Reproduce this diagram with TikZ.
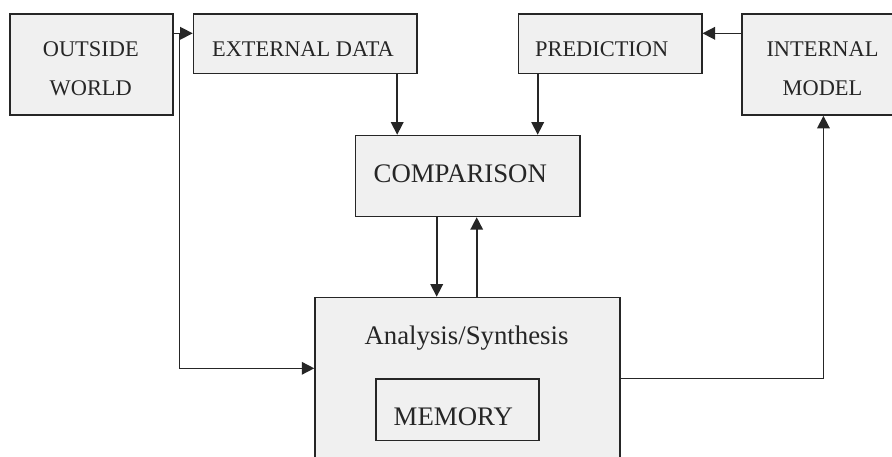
\documentclass[tikz,border=0pt]{standalone}
\usepackage{fontspec}
\setmainfont{Liberation Serif}
\usetikzlibrary{arrows.meta}

\definecolor{boxfill}{HTML}{F0F0F0}
\definecolor{ink}{HTML}{262626}

\tikzset{
  box/.style={draw=ink, fill=boxfill, line width=1.5pt, rectangle, inner sep=0pt,
              anchor=north west},
  smalltxt/.style={text=ink, inner sep=0pt, anchor=base, font=\fontsize{22.4}{26}\selectfont},
  bigtxt/.style={text=ink, inner sep=0pt, anchor=base, font=\fontsize{26.8}{31}\selectfont},
  conn/.style={draw=ink, line width=1.6pt},
  arr/.style={conn, -{Triangle[length=12.5pt,width=12.5pt]}},
}

\begin{document}
\begin{tikzpicture}[x=1pt,y=-1pt]
  \useasboundingbox (0,0) rectangle (892,456);
  \clip (0,0) rectangle (892,456);
  \fill[white] (0,0) rectangle (892,456);

  % boxes (corner at top left, size given in pt)
  \node[box, minimum width=163pt, minimum height=100.7pt] (outside) at (9.3,13.3) {};
  \node[box, minimum width=223.3pt, minimum height=59.4pt] (ext) at (192.7,13.3) {};
  \node[box, minimum width=183.3pt, minimum height=59.4pt] (pred) at (517.7,13.3) {};
  \node[box, minimum width=163.4pt, minimum height=101pt] (intm) at (741,13.3) {};
  \node[box, minimum width=224.3pt, minimum height=81pt] (comp) at (354.7,134.7) {};
  \node[box, minimum width=305pt, minimum height=190pt] (anal) at (314.3,296.7) {};
  \node[box, minimum width=163pt, minimum height=61.4pt] (mem) at (375.3,378.3) {};

  % labels
  \node[smalltxt] (t-out1) at (90.8,56.7) {OUTSIDE};
  \node[smalltxt] (t-out2) at (90.8,95.7) {WORLD};
  \node[smalltxt] (t-ext) at (303,56.7) {EXTERNAL DATA};
  \node[smalltxt] (t-pred) at (601.7,56.7) {PREDICTION};
  \node[smalltxt] (t-int1) at (822.5,56.7) {INTERNAL};
  \node[smalltxt] (t-int2) at (822.5,95.7) {MODEL};
  \node[bigtxt] (t-comp) at (460.3,182.3) {COMPARISON};
  \node[bigtxt] (t-anal) at (466.5,344.3) {Analysis/Synthesis};
  \node[bigtxt] (t-mem) at (453.3,425.7) {MEMORY};

  % outside world feeds the external data and the analysis stage
  \coordinate (split) at (179.3,33.3);
  \draw[arr] ([yshift=-20pt]outside.north east) -- ([yshift=-20pt]ext.north west);
  \draw[arr] (split) |- ([yshift=-71.6pt]anal.north west);

  % internal model produces the prediction
  \draw[arr] ([yshift=-20pt]intm.north west) -- ([yshift=-20pt]pred.north east);

  % data and prediction go into the comparison
  \draw[arr] ([xshift=-20.3pt]ext.south east) -- ([xshift=-20.3pt]ext.south east |- comp.north);
  \draw[arr] ([xshift=20pt]pred.south west) -- ([xshift=20pt]pred.south west |- comp.north);

  % comparison <-> analysis/synthesis
  \draw[arr] ([xshift=82pt]comp.south west) -- ([xshift=82pt]comp.south west |- anal.north);
  \draw[arr] ([xshift=122pt]comp.south west |- anal.north) -- ([xshift=122pt]comp.south west);

  % analysis/synthesis updates the internal model
  \draw[arr] ([yshift=-81.6pt]anal.north east) -| (intm.south);
\end{tikzpicture}
\end{document}
